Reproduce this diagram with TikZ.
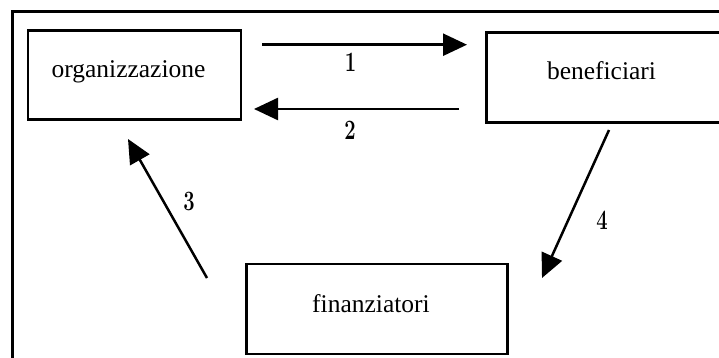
\documentclass[tikz,border=0pt]{standalone}
\usepackage{fontspec}
\newfontfamily\boxfont{Liberation Serif}
\usetikzlibrary{arrows.meta}
\tikzset{
  frame/.style={line width=3pt},
  boxframe/.style={draw, line width=2.2pt, rectangle, inner sep=0pt},
  boxtext/.style={inner sep=0pt, anchor=base, font=\boxfont\fontsize{25.5}{30}\selectfont},
  flow/.style={line width=2.5pt, -{Triangle[length=24pt, width=22pt]}},
  flowlabel/.style={inner sep=0pt, font=\bfseries\fontsize{28}{32}\selectfont}
}
\newcommand{\narrow}[1]{\scalebox{0.72}[1]{#1}}
\begin{document}
\begin{tikzpicture}[x=1pt, y=-1pt]
  \useasboundingbox (0,0) rectangle (719,358);
  \clip (0,0) rectangle (719,358);
  \fill[white] (0,0) rectangle (719,358);

  % outer frame, running past the right and bottom edges
  \draw[frame] (12.5,11.5) rectangle (740,380);

  % boxes
  \node[boxframe, minimum width=213pt, minimum height=89pt] (orgbox) at (134.5,75) {};
  \node[boxframe, minimum width=260pt, minimum height=90pt] (benbox) at (616.5,77.5) {};
  \node[boxframe, minimum width=261pt, minimum height=90pt] (finbox) at (377,309) {};

  \node[boxtext] (orgtext) at (128.5,78) {organizzazione};
  \node[boxtext] (bentext) at (601.5,79.5) {beneficiari};
  \node[boxtext] (fintext) at (371,312) {finanziatori};

  % arrow end points
  \coordinate (a1s) at (262,44.7); \coordinate (a1e) at (467,44.7);
  \coordinate (a2s) at (459,109);  \coordinate (a2e) at (254,109);
  \coordinate (a3s) at (207,278);  \coordinate (a3e) at (128,139);
  \coordinate (a4s) at (609,130);  \coordinate (a4e) at (542,278);

  \draw[flow] (a1s) -- (a1e);
  \draw[flow] (a2s) -- (a2e);
  \draw[flow] (a3s) -- (a3e);
  \draw[flow] (a4s) -- (a4e);

  % flow numbers
  \node[flowlabel] (n1) at (350.5,62.5) {\narrow{1}};
  \node[flowlabel] (n2) at (350,130.5) {\narrow{2}};
  \node[flowlabel] (n3) at (189,201) {\narrow{3}};
  \node[flowlabel] (n4) at (602,220) {\narrow{4}};
\end{tikzpicture}
\end{document}
